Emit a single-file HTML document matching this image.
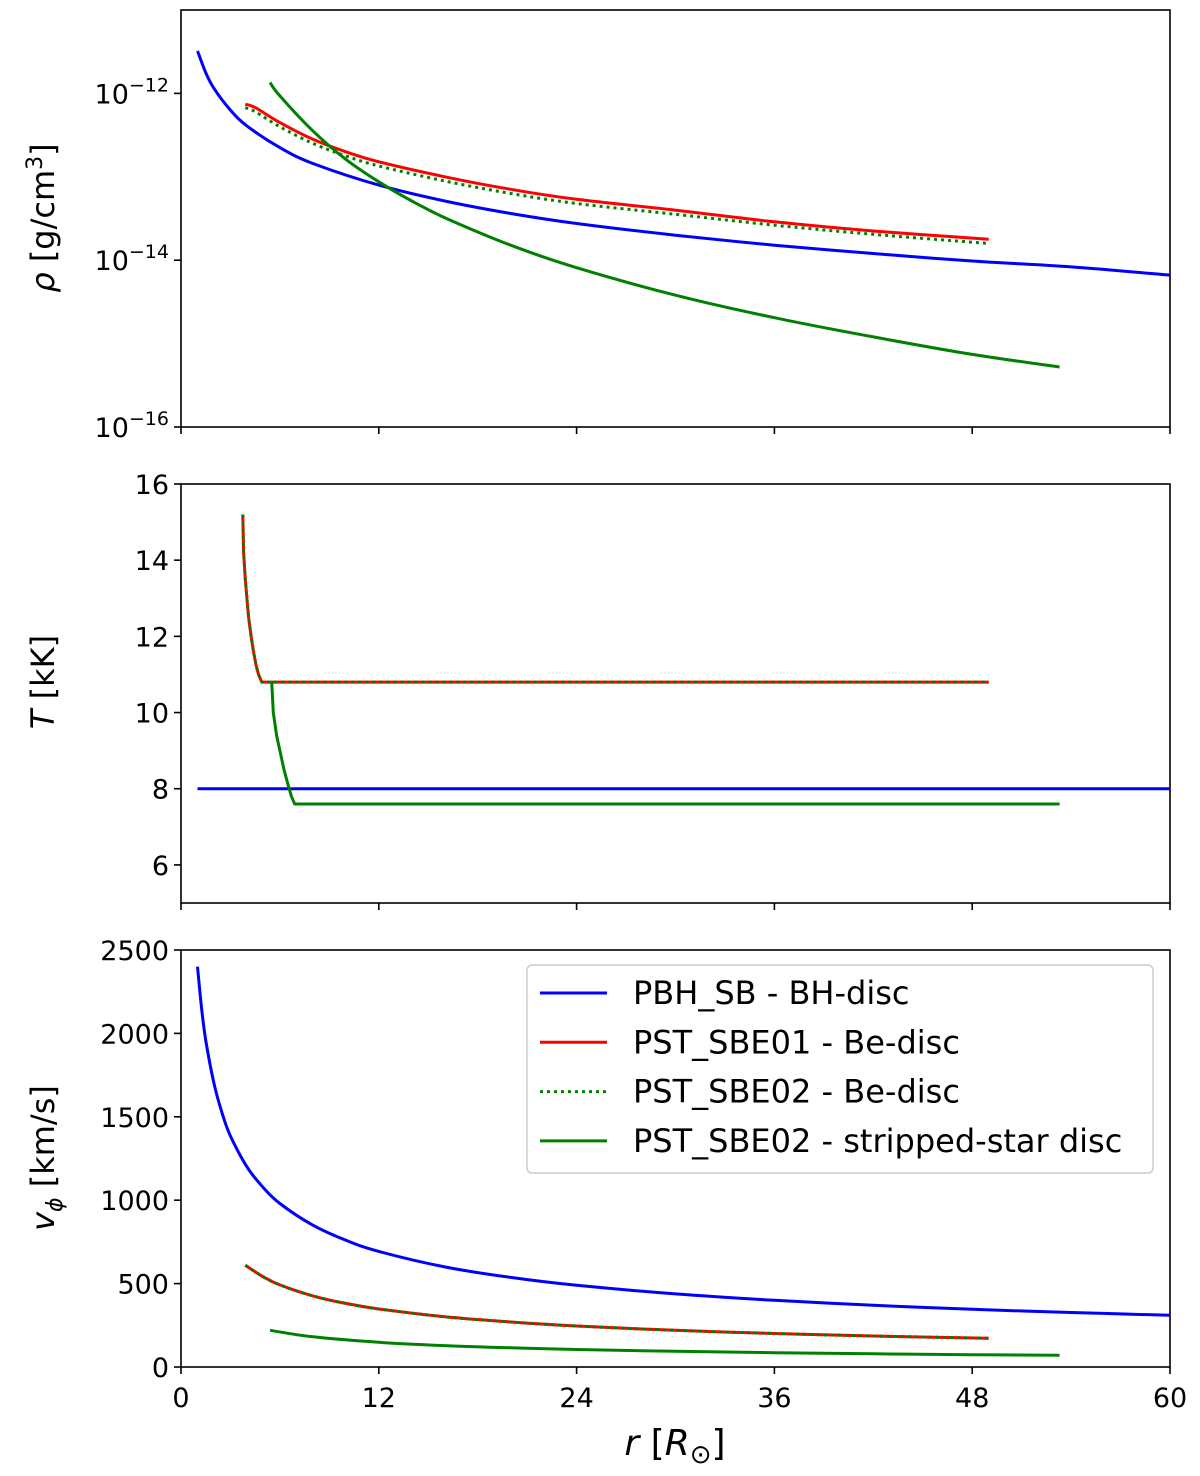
<!DOCTYPE html>
<html><head><meta charset="utf-8"><style>
html,body{margin:0;padding:0;background:#fff;}
svg text{font-family:"DejaVu Sans","Liberation Sans",sans-serif;fill:#000;}
</style></head><body>
<svg id="chart" width="1200" height="1471" viewBox="0 0 1200 1471" xmlns="http://www.w3.org/2000/svg"></svg>
<script>
const xTicks=[0,12,24,36,48,60];
const rhoTicks=[-12,-14,-16];
const tTicks=[6,8,10,12,14,16];
const vTicks=[0,500,1000,1500,2000,2500];
// density (log10 g/cm3)
const rhoBlueR=[1,1.5,2,3,4,6,8,12,16,20,24,30,36,42,48,54,60];
const rhoBlueV=[-11.49,-11.75,-11.94,-12.2,-12.39,-12.65,-12.84,-13.1,-13.29,-13.44,-13.56,-13.7,-13.82,-13.92,-14.01,-14.08,-14.18];
const rhoRedR=[3.9,4.5,6,8,10,12,16,20,24,30,36,42,49];
const rhoRedV=[-12.13,-12.17,-12.35,-12.55,-12.7,-12.82,-13.0,-13.15,-13.27,-13.4,-13.54,-13.65,-13.75];
const rhoDotV=[-12.17,-12.22,-12.4,-12.6,-12.75,-12.87,-13.05,-13.2,-13.32,-13.45,-13.58,-13.69,-13.8];
const rhoGreenR=[5.4,6,8,10,12,14,16,20,24,30,36,42,48,53.3];
const rhoGreenV=[-11.87,-12.03,-12.45,-12.79,-13.06,-13.29,-13.49,-13.82,-14.09,-14.42,-14.69,-14.92,-15.13,-15.28];
// temperature kK
const tBlueR=[1,60]; const tBlueV=[8,8];
const tRedR=[3.75,3.8,3.9,4.0,4.1,4.25,4.4,4.55,4.7,4.9,49]; const tRedV=[15.2,14.2,13.5,13.0,12.5,12.0,11.6,11.25,11.0,10.8,10.8];
const tGreenR=[5.5,5.6,5.8,6.0,6.25,6.5,6.7,6.9,53.3]; const tGreenV=[10.8,10.0,9.4,9.0,8.5,8.1,7.8,7.6,7.6];
// velocity km/s
const vBlueR=[1,1.25,1.5,2,2.5,3,4,5,6,8,10,12,16,20,24,30,36,42,48,54,60];
const vBlueV=[2400,2150,1960,1700,1520,1385,1200,1075,980,850,760,693,600,537,490,438,400,370,346,327,310];
const vRedR=[3.9,5,6,8,10,12,16,20,24,30,36,42,49];
const vRedV=[610,540,492,426,381,348,301,270,246,220,201,186,172];
const vGreenR=[5.4,8,12,16,20,24,30,36,42,48,53.3];
const vGreenV=[220,181,148,128,115,105,94,86,79,74,70];

const NS='http://www.w3.org/2000/svg';
const svg=document.getElementById('chart');
const L=181,R=1170;
const xs=v=>L+(R-L)*v/60;
const P1={t:10,b:427,min:-16,max:-11};
const P2={t:484,b:903,min:5,max:16};
const P3={t:950,b:1367,min:0,max:2500};
const ys=(p,v)=>p.b-(p.b-p.t)*(v-p.min)/(p.max-p.min);
function el(tag,attrs,parent){const e=document.createElementNS(NS,tag);for(const k in attrs)e.setAttribute(k,attrs[k]);(parent||svg).appendChild(e);return e;}
function line(p,rs,vs,color,name,dash,smooth){
  const pts=rs.map((r,i)=>[xs(r),ys(p,vs[i])]);
  let d='M'+pts[0][0].toFixed(1)+','+pts[0][1].toFixed(1);
  for(let i=0;i<pts.length-1;i++){
    if(!smooth){d+='L'+pts[i+1][0].toFixed(1)+','+pts[i+1][1].toFixed(1);continue;}
    const p0=pts[Math.max(0,i-1)],p1=pts[i],p2=pts[i+1],p3=pts[Math.min(pts.length-1,i+2)];
    const c1=[p1[0]+(p2[0]-p0[0])/6,p1[1]+(p2[1]-p0[1])/6];
    const c2=[p2[0]-(p3[0]-p1[0])/6,p2[1]-(p3[1]-p1[1])/6];
    d+='C'+c1.map(v=>v.toFixed(1))+' '+c2.map(v=>v.toFixed(1))+' '+p2.map(v=>v.toFixed(1));
  }
  const e=el('path',{d:d,fill:'none',stroke:color,'stroke-width':3,'stroke-linejoin':'round'});
  if(dash)e.setAttribute('stroke-dasharray',dash);
  
  
}
function frame(p,name){
  const r=el('rect',{x:L,y:p.t,width:R-L,height:p.b-p.t,fill:'none',stroke:'#000','stroke-width':1.6});
  
  
  xTicks.forEach(v=>{el('line',{x1:xs(v),x2:xs(v),y1:p.b,y2:p.b+7,stroke:'#000','stroke-width':1.6});});
}
function yTick(p,v,label,sup){
  const y=ys(p,v);
  el('line',{x1:L-7,x2:L,y1:y,y2:y,stroke:'#000','stroke-width':1.6});
  const t=el('text',{x:L-12,y:y+10,'text-anchor':'end','font-size':27});
  
  
  if(sup){t.textContent='10';const s=el('tspan',{dy:-12,'font-size':19},t);s.textContent=sup;}
  else t.textContent=label;
}
frame(P1,'density-panel');frame(P2,'temperature-panel');frame(P3,'velocity-panel');
rhoTicks.forEach(v=>yTick(P1,v,'',String(v).replace('-','\u2212')));
tTicks.forEach(v=>yTick(P2,v,String(v)));
vTicks.forEach(v=>yTick(P3,v,String(v)));
xTicks.forEach(v=>{const t=el('text',{x:xs(v),y:1407,'text-anchor':'middle','font-size':27});t.textContent=v;
  
  });
// series
line(P1,rhoBlueR,rhoBlueV,'#0000ff','rho-bh-disc','',true);
line(P1,rhoRedR,rhoRedV,'#ff0000','rho-be-disc-01','',true);
line(P1,rhoRedR,rhoDotV,'#008000','rho-be-disc-02','3,4',true);
line(P1,rhoGreenR,rhoGreenV,'#008000','rho-stripped-disc','',true);
line(P2,tBlueR,tBlueV,'#0000ff','t-bh-disc');
line(P2,tRedR,tRedV,'#ff0000','t-be-disc-01');
line(P2,tRedR,tRedV,'#008000','t-be-disc-02','3,4');
line(P2,tGreenR,tGreenV,'#008000','t-stripped-disc');
line(P3,vBlueR,vBlueV,'#0000ff','v-bh-disc','',true);
line(P3,vRedR,vRedV,'#ff0000','v-be-disc-01','',true);
line(P3,vRedR,vRedV,'#008000','v-be-disc-02','3,4',true);
line(P3,vGreenR,vGreenV,'#008000','v-stripped-disc','',true);
// axis titles
function ylab(y,html,name){const t=el('text',{transform:`translate(54,${y}) rotate(-90)`,'text-anchor':'middle','font-size':32});t.innerHTML=html;
  
  }
ylab(218,'<tspan font-style="italic">ρ</tspan> [g/cm<tspan dy="-12" font-size="22">3</tspan><tspan dy="12">]</tspan>','rho-axis-title');
ylab(682,'<tspan font-style="italic">T</tspan> [kK]','temperature-axis-title');
ylab(1158,'<tspan font-style="italic">v</tspan><tspan dy="8" font-size="22" font-style="italic">ϕ</tspan><tspan dy="-8"> [km/s]</tspan>','velocity-axis-title');
const xl=el('text',{x:675,y:1455,'text-anchor':'middle','font-size':36});
xl.innerHTML='<tspan font-style="italic">r</tspan> [<tspan font-style="italic">R</tspan><tspan dy="8" font-size="26">⊙</tspan><tspan dy="-8">]</tspan>';


// legend
const lg=el('g',{});


el('rect',{x:527,y:965,width:626,height:208,rx:5,fill:'#fff',stroke:'#ccc','stroke-width':1.5},lg);
const legLabels=['PBH_SB - BH-disc','PST_SBE01 - Be-disc','PST_SBE02 - Be-disc','PST_SBE02 - stripped-star disc'];
const legColors=['#0000ff','#ff0000','#008000','#008000'];
const legDash=['','','3,4',''];
legLabels.forEach((s,i)=>{
  const y=993+i*49.3;
  const g=el('g',{},lg);
  
  
  const l=el('line',{x1:540,x2:607,y1:y,y2:y,stroke:legColors[i],'stroke-width':3},g);
  if(legDash[i])l.setAttribute('stroke-dasharray',legDash[i]);
  const t=el('text',{x:633,y:y+11,'font-size':32},g);t.textContent=s;
});
</script>
</body></html>
